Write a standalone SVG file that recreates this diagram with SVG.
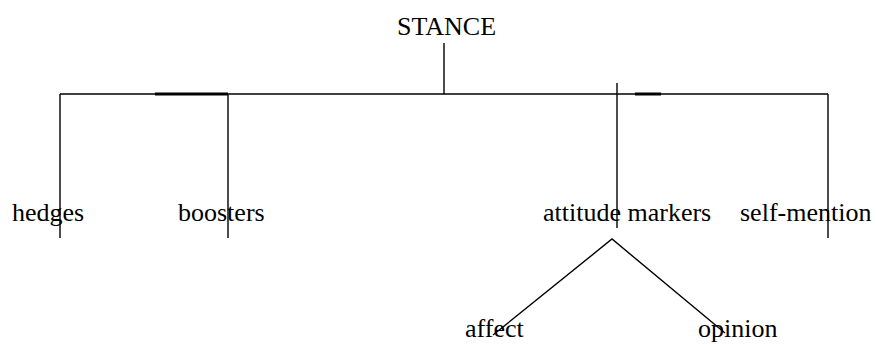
<svg xmlns="http://www.w3.org/2000/svg" width="877" height="345" viewBox="0 0 877 345">
<style>
.t{font-family:"Liberation Serif","Times New Roman",serif;font-size:26px;fill:#000}
.l{stroke:#000;stroke-width:1.4;fill:none}
.k{stroke:#000;stroke-width:3;fill:none}
</style>
<rect width="877" height="345" fill="#fff"/>
<g id="connectors">
<line class="l" x1="444" y1="43" x2="444" y2="94"/>
<line class="l" x1="60" y1="94" x2="828" y2="94"/>
<line class="k" x1="155" y1="94" x2="228" y2="94"/>
<line class="k" x1="635" y1="94" x2="661" y2="94"/>
<line class="l" x1="60" y1="94" x2="60" y2="238"/>
<line class="l" x1="228" y1="94" x2="228" y2="238"/>
<line class="l" x1="617" y1="83" x2="617" y2="228"/>
<line class="l" x1="828" y1="94" x2="828" y2="238"/>
<polyline class="l" points="493,335 612,239 725,333"/>
</g>
<g id="stance"><text class="t" x="397" y="35">STANCE</text></g>
<g id="hedges"><text class="t" x="12" y="221">hedges</text></g>
<g id="boosters"><text class="t" x="178" y="221">boosters</text></g>
<g id="attitude-markers"><text class="t" x="543" y="221">attitude markers</text></g>
<g id="self-mention"><text class="t" x="740" y="221">self-mention</text></g>
<g id="affect"><text class="t" x="465" y="337">affect</text></g>
<g id="opinion"><text class="t" x="698" y="337">opinion</text></g>
</svg>
